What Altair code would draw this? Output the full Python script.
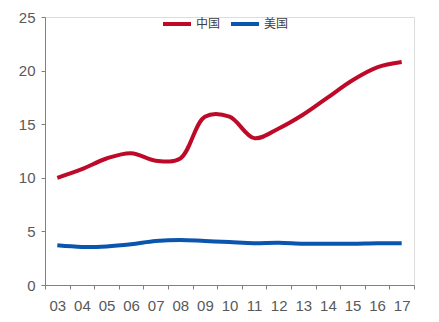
import altair as alt
import pandas as pd

years = ["03", "04", "05", "06", "07", "08", "09", "10", "11", "12", "13", "14", "15", "16", "17"]
china = [10.0, 10.8, 11.8, 12.3, 11.6, 11.8, 15.7, 15.7, 13.7, 14.6, 15.9, 17.5, 19.1, 20.3, 20.8]
usa = [3.7, 3.55, 3.6, 3.8, 4.1, 4.2, 4.1, 4.0, 3.9, 3.95, 3.85, 3.85, 3.85, 3.9, 3.9]
series = ["中国", "美国"]
colors = ["#BE0A28", "#0A56AE"]

rows = []
for y, c, u in zip(years, china, usa):
    rows.append({"year": y, "value": c, "country": series[0]})
    rows.append({"year": y, "value": u, "country": series[1]})
df = pd.DataFrame(rows)

font = "Liberation Sans Narrow, Liberation Sans, Arial"

chart = alt.Chart(df).mark_line(strokeWidth=4, interpolate="catmull-rom").encode(
    x=alt.X("year:O", sort=years, title=None,
            scale=alt.Scale(paddingInner=0, paddingOuter=0),
            axis=alt.Axis(labelAngle=0, tickBand="extent", domainColor="#808080",
                          tickColor="#808080", tickSize=4, labelPadding=9,
                          labelFont=font, labelFontSize=15, labelColor="#595959")),
    y=alt.Y("value:Q", title=None,
            scale=alt.Scale(domain=[0, 25], nice=False),
            axis=alt.Axis(values=[0, 5, 10, 15, 20, 25], grid=False, domainColor="#808080",
                          tickColor="#808080", tickSize=4, labelPadding=6,
                          labelFont=font, labelFontSize=15, labelColor="#595959")),
    color=alt.Color("country:N", sort=series,
                    scale=alt.Scale(domain=series, range=colors),
                    legend=alt.Legend(title=None, orient="none", direction="horizontal",
                                      legendX=116, legendY=-9,
                                      symbolType="stroke", symbolStrokeWidth=4,
                                      symbolSize=784, labelFont="Noto Sans CJK SC",
                                      labelFontSize=12, labelColor="#404040",
                                      labelOffset=3, columnPadding=2)),
).properties(
    width=369, height=268,
    autosize=alt.AutoSizeParams(type="none"),
    padding={"left": 45, "top": 17, "right": 25, "bottom": 37},
).configure_view(stroke=None).configure(background="white")

chart.save("out.html", embed_options={"renderer": "svg", "actions": False})
